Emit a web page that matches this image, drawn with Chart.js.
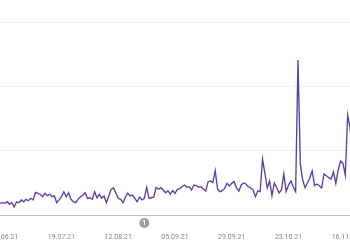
<!DOCTYPE html>
<html>
<head>
<meta charset="utf-8">
<script src="https://cdn.jsdelivr.net/npm/chart.js@4"></script>
<style>
html,body{margin:0;padding:0;background:#fff;overflow:hidden;width:350px;height:244px;}
#wrap{position:relative;width:350px;height:244px;overflow:hidden;}
#c{position:absolute;left:-30px;top:0;}
</style>
</head>
<body>
<div id="wrap"><canvas id="c" width="420" height="244"></canvas></div>
<script>
// Start date of the daily series (23.06.2021)
const startDate = [2021, 5, 23];
// Daily values (gridlines at 0 / 50 / 100 / 150)
const valuesPart1 = [9.1,9.6,9.1,10.3,8.3,9.6,6.2,10.3,9.6,11.7,
  10.3,12.2,11.1,13.0,11.7,17.6,16.9,16.1,14.2,16.9,
  15.0,16.1,14.2,14.8,9.6,11.7,14.2,18.1,14.2,17.3,
  12.2,10.3,9.6,12.2,14.2,15.5,17.3,13.0,13.4,12.2,
  18.1,13.4,16.1,13.0,14.8,9.6,14.8,20.0,21.0,16.9];
const valuesPart2 = [13.0,12.2,9.6,13.8,16.9,14.8,15.5,13.0,10.3,13.8,
  11.7,13.0,21.5,13.0,13.4,13.8,21.5,20.0,21.2,19.4,
  17.3,18.9,16.1,18.9,16.9,20.0,20.4,22.0,23.3,21.5,
  22.0,19.4,23.3,22.8,21.5,22.0,20.2,18.6,25.9,26.4,
  25.1,34.4,20.0,18.1,18.9,20.7,24.6,22.5,24.6];
const valuesPart3 = [25.9,21.0,18.6,23.3,24.9,24.1,22.0,21.2,19.4,14.2,
  18.6,18.1,43.5,32.6,21.2,26.4,15.0,24.9,21.2,17.1,
  19.4,31.9,18.1,23.3,26.4,22.0,18.1,120.4,38.9,27.2,
  21.2,24.9,28.8,34.2,22.8,24.1,22.8,21.0,31.9,30.5,
  29.0,28.0,33.6,24.6,35.0,42.0,40.2,31.1,77.7,
  68.0,50.0,45.0];
const values = valuesPart1.concat(valuesPart2, valuesPart3);
// Tick labels shown on the x axis
const tickLabels = ['25.06.21','19.07.21','12.08.21','05.09.21','29.09.21','23.10.21','16.11.21'];
// Annotation markers
const annotations = [{date:'23.08.21', text:'1'}];
const yTicks = [0, 50, 100, 150];

function fmt(d){
  const dd = String(d.getDate()).padStart(2,'0');
  const mm = String(d.getMonth()+1).padStart(2,'0');
  const yy = String(d.getFullYear()).slice(2);
  return dd+'.'+mm+'.'+yy;
}
const categories = values.map((v,i)=>fmt(new Date(startDate[0], startDate[1], startDate[2]+i)));

const markerPlugin = {
  id:'markers',
  afterDraw(chart){
    const xs = chart.scales.x, ctx = chart.ctx;
    annotations.forEach(a=>{
      const idx = categories.indexOf(a.date);
      if(idx<0) return;
      const x = xs.getPixelForValue(idx);
      const y = xs.top + 8;
      ctx.save();
      ctx.beginPath();
      ctx.arc(x, y, 5, 0, Math.PI*2);
      ctx.fillStyle = '#9e9e9e';
      ctx.fill();
      ctx.fillStyle = '#fff';
      ctx.font = 'bold 7px Roboto';
      ctx.textAlign = 'center';
      ctx.textBaseline = 'middle';
      ctx.fillText(a.text, x, y+0.5);
      ctx.restore();
    });
  }
};

new Chart(document.getElementById('c'), {
  type:'line',
  data:{
    labels: categories,
    datasets:[{
      data: values,
      borderColor:'#5b3fa8',
      borderWidth:1.35,
      pointRadius:0,
      tension:0,
      fill:false
    }]
  },
  options:{
    responsive:false,
    animation:false,
    devicePixelRatio:1,
    layout:{padding:{left:30, right:35.25, top:22, bottom:0}},
    plugins:{legend:{display:false}, tooltip:{enabled:false}},
    scales:{
      x:{
        offset:false,
        grid:{display:false, drawTicks:false},
        border:{display:true, color:'#c4c4c4', width:1},
        afterFit:(s)=>{ s.height = 29; },
        ticks:{
          autoSkip:false, maxRotation:0, minRotation:0, padding:18,
          color:'#858585', font:{family:'Roboto', size:7},
          callback:function(v,i){ const l = categories[i]; return tickLabels.includes(l) ? l : ''; }
        }
      },
      y:{
        min:yTicks[0], max:yTicks[yTicks.length-1],
        afterBuildTicks:(s)=>{ s.ticks = yTicks.map(v=>({value:v})); },
        grid:{color:'#f0f0f0', drawTicks:false, lineWidth:1},
        border:{display:false},
        ticks:{display:false}
      }
    }
  },
  plugins:[markerPlugin]
});
</script>
</body>
</html>
